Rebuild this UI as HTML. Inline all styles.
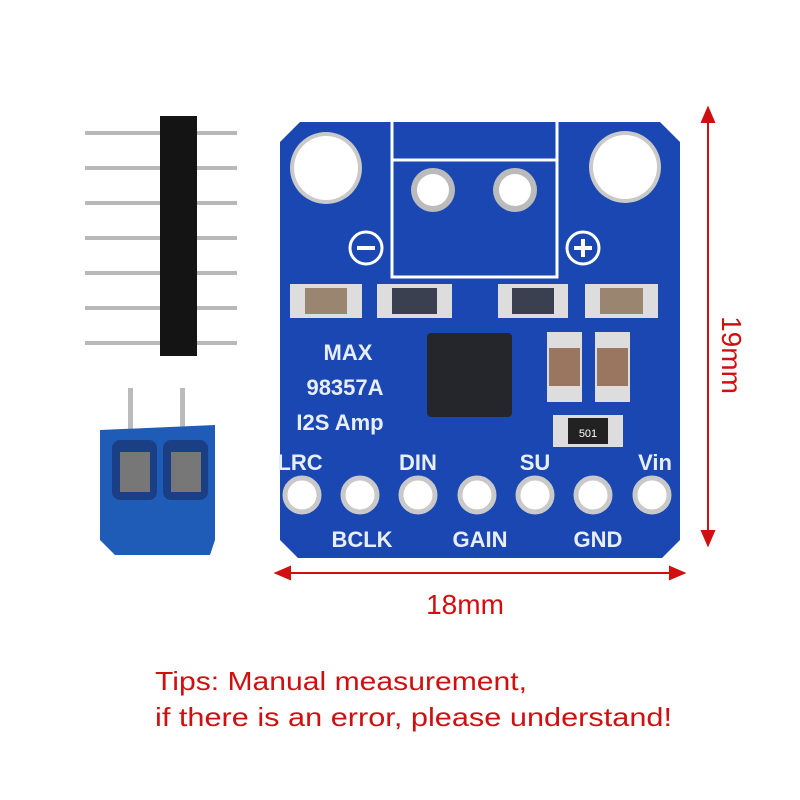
<!DOCTYPE html>
<html><head><style>body{margin:0;background:#fff}svg{display:block}</style></head><body>
<svg width="800" height="800" viewBox="0 0 800 800" xmlns="http://www.w3.org/2000/svg" font-family="Liberation Sans, sans-serif">
<rect width="800" height="800" fill="#fff"/>
<g stroke="#b8b8b8" stroke-width="4">
<line x1="85" y1="133" x2="237" y2="133"/><line x1="85" y1="168" x2="237" y2="168"/><line x1="85" y1="203" x2="237" y2="203"/><line x1="85" y1="238" x2="237" y2="238"/><line x1="85" y1="273" x2="237" y2="273"/><line x1="85" y1="308" x2="237" y2="308"/><line x1="85" y1="343" x2="237" y2="343"/>
</g>
<rect x="160" y="116" width="37" height="240" fill="#141414"/>
<rect x="128" y="388" width="5" height="45" fill="#bbb"/><rect x="180" y="388" width="5" height="45" fill="#bbb"/>
<path d="M100 430 L215 425 L215 540 L210 555 L115 555 L100 540 Z" fill="#1f5cb8"/>
<rect x="112" y="440" width="45" height="60" rx="8" fill="#1b3f85"/><rect x="163" y="440" width="45" height="60" rx="8" fill="#1b3f85"/>
<rect x="120" y="452" width="30" height="40" fill="#777"/><rect x="171" y="452" width="30" height="40" fill="#777"/>
<path d="M300 122 L660 122 L680 142 L680 540 L662 558 L298 558 L280 540 L280 142 Z" fill="#1a47b2"/>
<circle cx="326" cy="168" r="36" fill="#c9c9c9"/><circle cx="326" cy="168" r="32" fill="#fff"/>
<circle cx="625" cy="167" r="36" fill="#c9c9c9"/><circle cx="625" cy="167" r="32" fill="#fff"/>
<path d="M392 122 L392 277 L557 277 L557 122 M392 160 L557 160" fill="none" stroke="#fff" stroke-width="3"/>
<circle cx="433" cy="190" r="22" fill="#bbb"/><circle cx="433" cy="190" r="16" fill="#fff"/>
<circle cx="515" cy="190" r="22" fill="#bbb"/><circle cx="515" cy="190" r="16" fill="#fff"/>
<circle cx="366" cy="248" r="16" fill="none" stroke="#fff" stroke-width="3"/><line x1="357" y1="248" x2="375" y2="248" stroke="#fff" stroke-width="4"/>
<circle cx="583" cy="248" r="16" fill="none" stroke="#fff" stroke-width="3"/><line x1="574" y1="248" x2="592" y2="248" stroke="#fff" stroke-width="4"/><line x1="583" y1="239" x2="583" y2="257" stroke="#fff" stroke-width="4"/>
<g>
<rect x="290" y="284" width="72" height="34" fill="#ddd"/><rect x="305" y="288" width="42" height="26" fill="#9a8670"/>
<rect x="377" y="284" width="75" height="34" fill="#ddd"/><rect x="392" y="288" width="45" height="26" fill="#3a4050"/>
<rect x="498" y="284" width="70" height="34" fill="#ddd"/><rect x="512" y="288" width="42" height="26" fill="#3a4050"/>
<rect x="585" y="284" width="73" height="34" fill="#ddd"/><rect x="600" y="288" width="43" height="26" fill="#9a8670"/>
<rect x="547" y="332" width="35" height="70" fill="#ddd"/><rect x="549" y="348" width="31" height="38" fill="#9a7660"/>
<rect x="595" y="332" width="35" height="70" fill="#ddd"/><rect x="597" y="348" width="31" height="38" fill="#9a7660"/>
<rect x="553" y="415" width="70" height="32" fill="#ddd"/><rect x="568" y="418" width="40" height="26" fill="#222"/>
<text x="588" y="437" font-size="11" fill="#fff" text-anchor="middle">501</text>
</g>
<rect x="427" y="333" width="85" height="84" rx="4" fill="#24262c"/>
<g fill="#e8eef8" font-size="22" font-weight="bold">
<text x="348" y="360" text-anchor="middle">MAX</text>
<text x="345" y="395" text-anchor="middle">98357A</text>
<text x="340" y="430" text-anchor="middle">I2S Amp</text>
<text x="300" y="470" text-anchor="middle">LRC</text>
<text x="418" y="470" text-anchor="middle">DIN</text>
<text x="535" y="470" text-anchor="middle">SU</text>
<text x="655" y="470" text-anchor="middle">Vin</text>
<text x="362" y="547" text-anchor="middle">BCLK</text>
<text x="480" y="547" text-anchor="middle">GAIN</text>
<text x="598" y="547" text-anchor="middle">GND</text>
</g>
<g fill="#fff" stroke="#c9c9c9" stroke-width="5">
<circle cx="302" cy="495" r="17"/><circle cx="360" cy="495" r="17"/><circle cx="418" cy="495" r="17"/><circle cx="477" cy="495" r="17"/><circle cx="535" cy="495" r="17"/><circle cx="593" cy="495" r="17"/><circle cx="652" cy="495" r="17"/>
</g>
<g stroke="#d01010" stroke-width="2" fill="#d01010">
<line x1="708" y1="118" x2="708" y2="535"/>
<path d="M708 108 L702 122 L714 122 Z"/><path d="M708 545 L702 531 L714 531 Z"/>
<line x1="285" y1="573" x2="675" y2="573"/>
<path d="M276 573 L290 567 L290 579 Z"/><path d="M684 573 L670 567 L670 579 Z"/>
</g>
<text x="465" y="614" font-size="28" fill="#d01010" text-anchor="middle">18mm</text>
<text transform="translate(722,355) rotate(90)" font-size="28" fill="#d01010" text-anchor="middle">19mm</text>
<text x="155" y="690" font-size="26" fill="#d01010" textLength="372" lengthAdjust="spacingAndGlyphs">Tips: Manual measurement,</text>
<text x="155" y="726" font-size="26" fill="#d01010" textLength="517" lengthAdjust="spacingAndGlyphs">if there is an error, please understand!</text>
</svg>
</body></html>
